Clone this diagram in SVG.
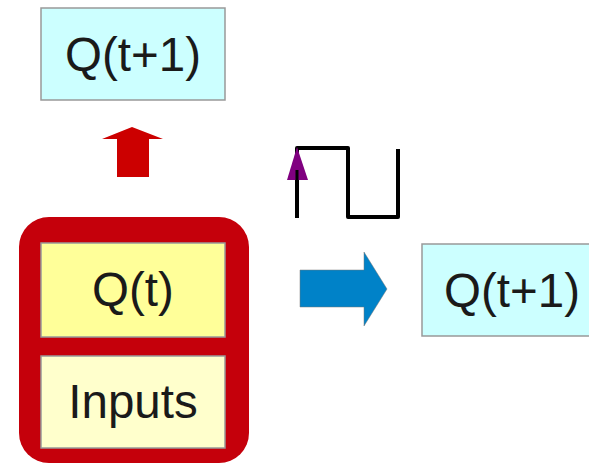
<svg xmlns="http://www.w3.org/2000/svg" width="589" height="463" viewBox="0 0 589 463">
<style>
.t{font-family:"Liberation Sans",Arial,sans-serif;font-size:47.5px;fill:#1a1a1a;text-anchor:middle}
.box{stroke:#999;stroke-width:1.5}
</style>
<rect width="589" height="463" fill="#fff"/>
<g id="qt1-top">
<rect class="box" x="41" y="8" width="184" height="92" fill="#ccffff"/>
<text class="t" x="133" y="71">Q(t+1)</text>
</g>
<g id="state">
<rect x="19" y="217" width="230" height="246" rx="30" fill="#c5000b"/>
<g id="qt">
<rect class="box" x="41" y="243" width="184" height="94" fill="#ffff99"/>
<text class="t" x="133" y="306">Q(t)</text>
</g>
<g id="inputs">
<rect class="box" x="41" y="356" width="184" height="92" fill="#ffffcc"/>
<text class="t" x="133" y="418">Inputs</text>
</g>
</g>
<g id="qt1-right">
<rect class="box" x="422" y="244" width="184" height="92" fill="#ccffff"/>
<text class="t" x="512" y="307">Q(t+1)</text>
</g>
<g id="clock">
<polyline points="297,218 297,148 348,148 348,217 398,217 398,149" fill="none" stroke="#000" stroke-width="4" stroke-linejoin="round"/>
<polygon points="297,147 287,180 308,180" fill="#800080"/>
<line x1="297" y1="170" x2="297" y2="218" stroke="#000" stroke-width="3"/>
</g>
<g id="connectors">
<polygon points="132,127 163,139 149,139 149,177 117,177 117,139 102,139" fill="#cc0000"/>
<polygon points="300,270 364,270 364,252 387,289 364,326 364,307 300,307" fill="#0082c8" stroke="#777" stroke-width="0.5"/>
</g>
</svg>
